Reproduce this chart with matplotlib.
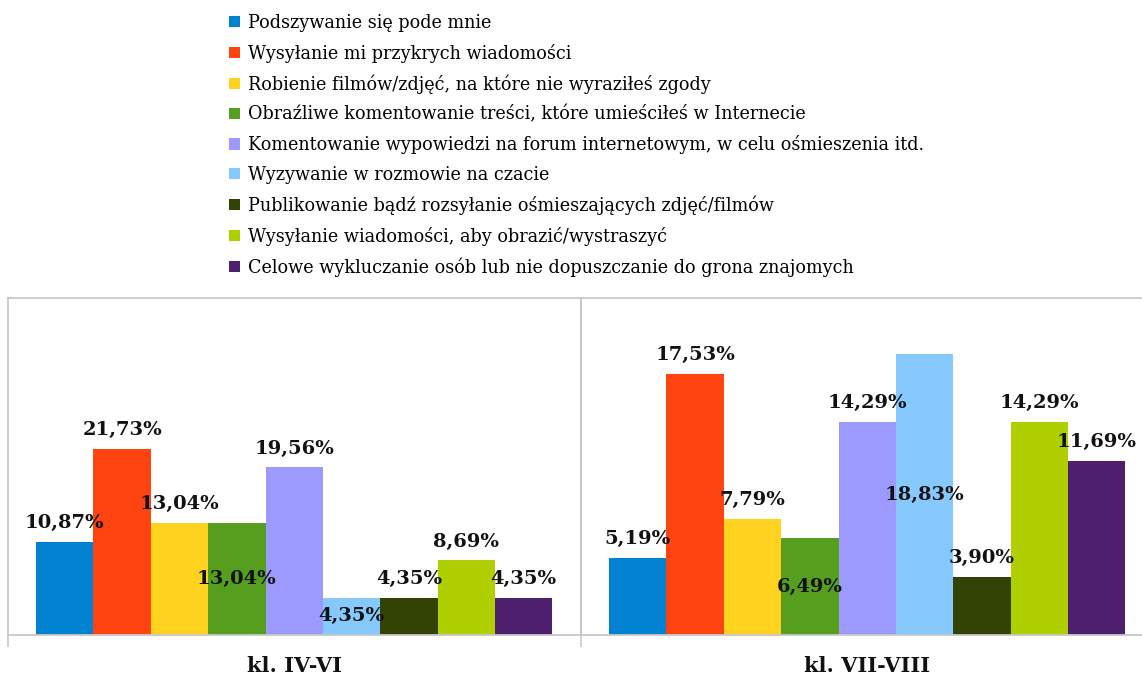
import matplotlib
matplotlib.use("Agg")
import matplotlib.pyplot as plt
from matplotlib.patches import Patch
from matplotlib.transforms import offset_copy

# --- data -------------------------------------------------------------
series_names = [
    "Podszywanie się pode mnie",
    "Wysyłanie mi przykrych wiadomości",
    "Robienie filmów/zdjęć, na które nie wyraziłeś zgody",
    "Obraźliwe komentowanie treści, które umieściłeś w Internecie",
    "Komentowanie wypowiedzi na forum internetowym, w celu ośmieszenia itd.",
    "Wyzywanie w rozmowie na czacie",
    "Publikowanie bądź rozsyłanie ośmieszających zdjęć/filmów",
    "Wysyłanie wiadomości, aby obrazić/wystraszyć",
    "Celowe wykluczanie osób lub nie dopuszczanie do grona znajomych",
]
groups = ["kl. IV-VI", "kl. VII-VIII"]
values_iv_vi = [10.87, 21.73, 13.04, 13.04, 19.56, 4.35, 4.35, 8.69, 4.35]
values_vii_viii = [5.19, 17.53, 7.79, 6.49, 14.29, 18.83, 3.90, 14.29, 11.69]
colors = ["#0082D1", "#FF4311", "#FFD21F", "#569F1E", "#9C99FF",
          "#85C9FF", "#334205", "#B0CF00", "#4E1F6E"]
# series whose value label sits in the middle of the bar
centered_labels = {3, 5}

# --- figure -----------------------------------------------------------
W, H = 1142, 677
fig = plt.figure(figsize=(W / 100, H / 100), dpi=100)

grid = "#C8C8C8"
base_y = 635
top_y = 298
ymax = [39.3, 22.6]
# pixel extents of the two panels; the second one runs to the right edge
panels = [(8, 581), (581, 1142)]
bar_px = 57.35            # one bar width in pixels
x0 = -0.99                # left limit in bar units

label_font = dict(family="DejaVu Serif", weight="bold", size=14, color="#111111")

for gi, (vals, gname) in enumerate(zip([values_iv_vi, values_vii_viii], groups)):
    l, r = panels[gi]
    ax = fig.add_axes([l / W, (H - base_y) / H, (r - l) / W, (base_y - top_y) / H])
    x = list(range(len(vals)))
    bars = ax.bar(x, vals, width=1.0, color=colors, linewidth=0)
    ax.set_xlim(x0, x0 + (r - l) / bar_px)
    ax.set_ylim(0, ymax[gi])
    ax.set_yticks([])
    ax.set_xticks([x0 + 0.004])
    ax.tick_params(axis="x", length=8.6, width=1.2, color=grid, labelbottom=False)
    for side in ["left", "top", "bottom", "right"]:
        ax.spines[side].set_color(grid)
        ax.spines[side].set_linewidth(1.3)
    if gi == 1:
        ax.spines["right"].set_visible(False)
    ax.set_facecolor("none")

    for i, (b, v) in enumerate(zip(bars, vals)):
        txt = f"{v:.2f}%".replace(".", ",")
        cx = b.get_x() + b.get_width() / 2
        if i in centered_labels:
            ax.text(cx, v / 2, txt, ha="center", va="center", **label_font)
        else:
            tr = offset_copy(ax.transData, fig=fig, x=0, y=13.5, units="points")
            ax.text(cx, v, txt, ha="center", va="center", transform=tr, **label_font)

    # group name centred under its bars
    ax.annotate(gname, xy=(4, 0), xycoords=("data", "axes fraction"),
                xytext=(0, -22), textcoords="offset points",
                ha="center", va="center",
                family="DejaVu Serif", weight="bold", size=15, color="#111111")

handles = [Patch(facecolor=c, edgecolor="none") for c in colors]
fig.legend(handles, series_names, loc="upper left",
           bbox_to_anchor=(229 / W, 1 - 14 / H), frameon=False,
           prop=dict(family="DejaVu Serif", size=12.7),
           handlelength=0.6, handleheight=0.6, handletextpad=0.5,
           labelspacing=0.66, borderpad=0, borderaxespad=0)

fig.savefig("out.png", dpi=100, facecolor="white")
